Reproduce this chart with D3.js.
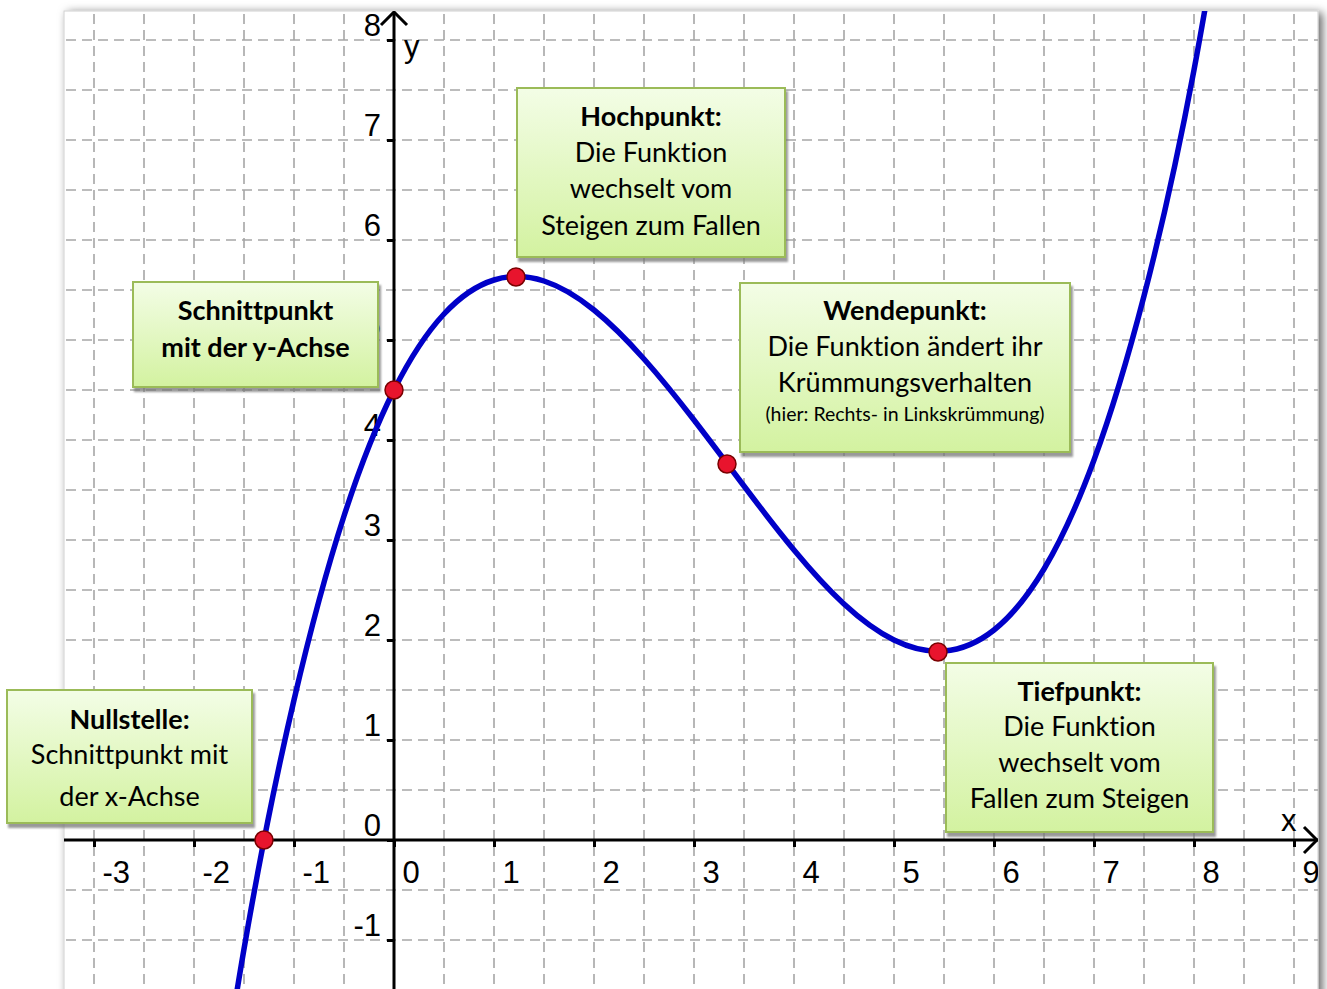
<!DOCTYPE html>
<html><head><meta charset="utf-8">
<script src="https://cdn.jsdelivr.net/npm/d3@7"></script>
<style>body{margin:0;background:#fff;overflow:hidden}svg{display:block}text{font-variant-ligatures:none}</style>
</head><body><svg id="c" width="1327" height="989"></svg>
<script>
// ---- data ----
const xTicks = [-3,-2,-1,0,1,2,3,4,5,6,7,8,9];
const yTicks = [-1,0,1,2,3,4,5,6,7,8];
const curveX = [-2,-1.5,-1,-0.5,0,0.5,1,1.5,2,2.5,3,3.5,4,4.5,5,5.5,6,6.5,7,7.5,8,8.5];
const curveY = [-4.3,-1.09,1.4,3.24,4.5,5.26,5.6,5.59,5.3,4.81,4.2,3.54,2.9,2.36,2.0,1.89,2.1,2.71,3.8,5.44,7.7,10.66];
const pointX = [-1.3, 0, 1.22, 3.33, 5.44];
const pointY = [0, 4.5, 5.63, 3.76, 1.88];
const boxTitles = ["Nullstelle:", "Schnittpunkt", "Hochpunkt:", "Wendepunkt:", "Tiefpunkt:"];
const boxLines = [
  ["Schnittpunkt mit", "der x-Achse"],
  ["mit der y-Achse"],
  ["Die Funktion", "wechselt vom", "Steigen zum Fallen"],
  ["Die Funktion ändert ihr", "Krümmungsverhalten", "(hier: Rechts- in Linkskrümmung)"],
  ["Die Funktion", "wechselt vom", "Fallen zum Steigen"]
];

// ---- layout (data units for boxes) ----
const boxX0 = [-3.87, -2.61, 1.23, 3.46, 5.52];
const boxX1 = [-1.42, -0.16, 3.91, 6.76, 8.19];
const boxYT = [1.50, 5.58, 7.52, 5.57, 1.77];
const boxYB = [0.17, 4.53, 5.83, 3.88, 0.08];
const lineOffsets = [[30,65,107],[29,66],[29,65,101,138],[28,64,100,131],[29,64,100,136]];
const boldLines = [[true,false,false],[true,true],[true,false,false,false],[true,false,false,false],[true,false,false,false]];
const smallLine = [[false,false,false],[false,false],[false,false,false,false],[false,false,false,true],[false,false,false,false]];

const frame = {x0:64, y0:11, x1:1318, y1:1000};
const x = d3.scaleLinear().domain([0, 1]).range([394, 494]);
const y = d3.scaleLinear().domain([0, 1]).range([840, 740]);

const svg = d3.select("#c");
const defs = svg.append("defs");
const sh = defs.append("filter").attr("id","fshadow").attr("x","-5%").attr("y","-5%").attr("width","110%").attr("height","110%");
sh.append("feDropShadow").attr("dx",4).attr("dy",2).attr("stdDeviation",5).attr("flood-color","#000").attr("flood-opacity",0.6);
const bs = defs.append("filter").attr("id","bshadow").attr("x","-5%").attr("y","-5%").attr("width","115%").attr("height","120%");
bs.append("feDropShadow").attr("dx",2).attr("dy",4).attr("stdDeviation",1.2).attr("flood-color","#777").attr("flood-opacity",0.75);
const gr = defs.append("linearGradient").attr("id","bgrad").attr("x1",0).attr("y1",0).attr("x2",0).attr("y2",1);
gr.append("stop").attr("offset","0%").attr("stop-color","#f3fde6");
gr.append("stop").attr("offset","100%").attr("stop-color","#d3f2a0");
defs.append("clipPath").attr("id","clipf").append("rect")
  .attr("x",frame.x0).attr("y",frame.y0).attr("width",frame.x1-frame.x0).attr("height",frame.y1-frame.y0);

// frame
svg.append("rect").attr("x",frame.x0).attr("y",frame.y0).attr("width",frame.x1-frame.x0).attr("height",frame.y1-frame.y0)
  .attr("fill","#fff").attr("stroke","#cfcfcf").attr("stroke-width",1).attr("filter","url(#fshadow)");

const plot = svg.append("g").attr("clip-path","url(#clipf)");

// grid (half units)
const gx = d3.range(-3.5, 9.51, 0.5), gy = d3.range(-1.5, 8.51, 0.5);
plot.append("g").selectAll("line").data(gx).join("line")
  .attr("x1",d=>x(d)).attr("x2",d=>x(d)).attr("y1",frame.y0+3).attr("y2",frame.y1)
  .attr("stroke","#a6a6a6").attr("stroke-width",1.6).attr("stroke-dasharray","10,6");
plot.append("g").selectAll("line").data(gy).join("line")
  .attr("y1",d=>y(d)).attr("y2",d=>y(d)).attr("x1",frame.x0+2).attr("x2",frame.x1)
  .attr("stroke","#a6a6a6").attr("stroke-width",1.6).attr("stroke-dasharray","10,6");

// axes
const fmt = d => String(d);
const ax = plot.append("g").attr("transform",`translate(0,${y(0)})`)
  .call(d3.axisBottom(x).tickValues(xTicks).tickSize(7).tickFormat(fmt));
ax.select(".domain").remove();
ax.selectAll(".tick line").attr("stroke","#000").attr("stroke-width",3);
ax.selectAll(".tick text").attr("x",8).attr("y",43).attr("dy",0).attr("text-anchor","start")
  .attr("font-family","Liberation Sans, Arial, sans-serif").attr("font-size",31).attr("fill","#000");

const ay = plot.append("g").attr("transform",`translate(${x(0)},0)`)
  .call(d3.axisLeft(y).tickValues(yTicks).tickSize(7).tickFormat(fmt));
ay.select(".domain").remove();
ay.selectAll(".tick line").attr("stroke","#000").attr("stroke-width",3);
ay.selectAll(".tick text").attr("x",-13).attr("y",-5).attr("dy",0).attr("text-anchor","end")
  .attr("font-family","Liberation Sans, Arial, sans-serif").attr("font-size",31).attr("fill","#000");

plot.append("line").attr("x1",frame.x0).attr("x2",frame.x1).attr("y1",y(0)).attr("y2",y(0)).attr("stroke","#000").attr("stroke-width",3);
plot.append("line").attr("x1",x(0)).attr("x2",x(0)).attr("y1",frame.y0+1).attr("y2",frame.y1).attr("stroke","#000").attr("stroke-width",3);
// arrows
plot.append("path").attr("d",`M${x(0)-13},${frame.y0+14}L${x(0)},${frame.y0+1}L${x(0)+13},${frame.y0+14}`)
  .attr("fill","none").attr("stroke","#000").attr("stroke-width",3);
plot.append("path").attr("d",`M${frame.x1-14},${y(0)-13}L${frame.x1-1},${y(0)}L${frame.x1-14},${y(0)+13}`)
  .attr("fill","none").attr("stroke","#000").attr("stroke-width",3);
plot.append("text").attr("x",x(0)+10).attr("y",57).text("y")
  .attr("font-family","Liberation Sans, Arial, sans-serif").attr("font-size",31);
plot.append("text").attr("x",1281).attr("y",831).text("x")
  .attr("font-family","Liberation Sans, Arial, sans-serif").attr("font-size",31);

// curve
const pts = curveX.map((v,i)=>[v,curveY[i]]);
plot.append("path").datum(pts)
  .attr("d", d3.line().x(d=>x(d[0])).y(d=>y(d[1])).curve(d3.curveNatural))
  .attr("fill","none").attr("stroke","#0000c8").attr("stroke-width",5.5);

// boxes
const bg = svg.append("g");
boxTitles.forEach((t,i)=>{
  const bx0 = x(boxX0[i]), bx1 = x(boxX1[i]), by0 = y(boxYT[i]), by1 = y(boxYB[i]);
  const g = bg.append("g");
  g.append("rect").attr("x",bx0).attr("y",by0).attr("width",bx1-bx0).attr("height",by1-by0)
    .attr("fill","url(#bgrad)").attr("stroke","#9bbb59").attr("stroke-width",2).attr("filter","url(#bshadow)");
  const lines = [t].concat(boxLines[i]);
  const cx = (bx0+bx1)/2;
  g.selectAll("text").data(lines).join("text")
    .attr("x",cx).attr("y",(d,j)=>by0+lineOffsets[i][j]).attr("dy","0.35em")
    .attr("text-anchor","middle").attr("font-family","Lato, sans-serif")
    .attr("font-weight",(d,j)=>boldLines[i][j]?"bold":"normal")
    .attr("font-size",(d,j)=>smallLine[i][j]?19.5:27).attr("fill","#000").text(d=>d);
});

// points
svg.append("g").selectAll("circle").data(pointX.map((v,i)=>[v,pointY[i]])).join("circle")
  .attr("cx",d=>x(d[0])).attr("cy",d=>y(d[1])).attr("r",9)
  .attr("fill","#e8142d").attr("stroke","#7a0000").attr("stroke-width",1.5);
</script></body></html>
